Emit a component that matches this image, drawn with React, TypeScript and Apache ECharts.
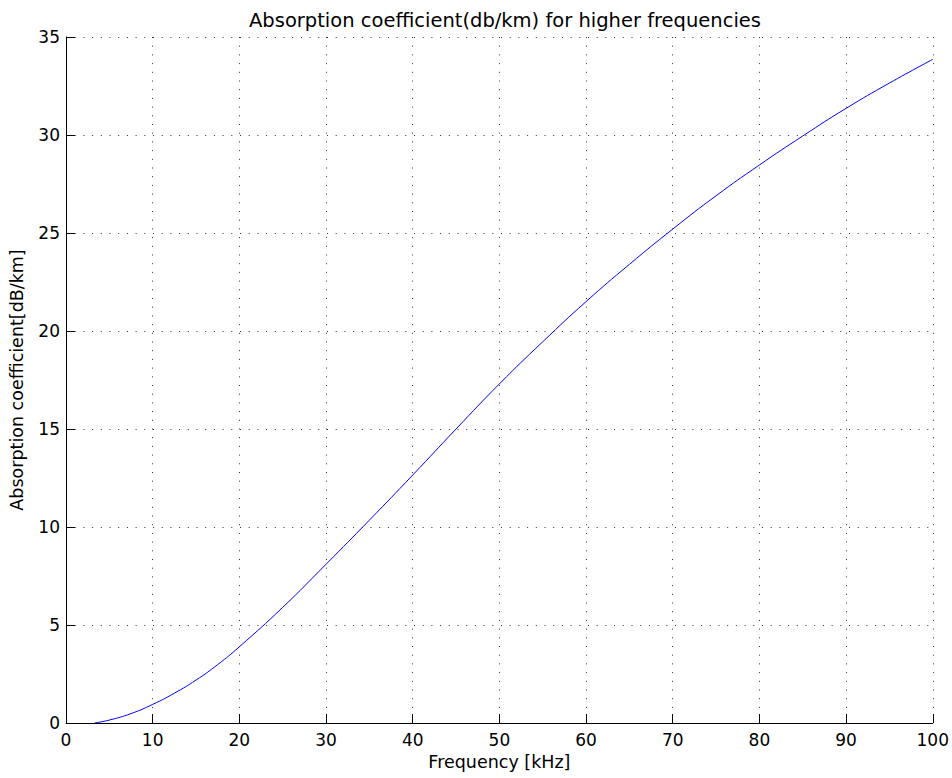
import React, { useEffect, useRef } from "react";
import * as echarts from "echarts";

const frequencies = [3.3, 5, 7.5, 10, 12.5, 15, 17.5, 20, 25, 30, 35, 40, 45, 50, 55, 60, 65, 70, 75, 80, 85, 90, 95, 100];
const absorption = [0, 0.15, 0.48, 0.95, 1.52, 2.19, 2.98, 3.89, 5.9, 8.1, 10.35, 12.65, 15.0, 17.3, 19.45, 21.5, 23.4, 25.2, 26.9, 28.47, 29.95, 31.36, 32.65, 33.86];

const titleText = "Absorption coefficient(db/km) for higher frequencies";
const xName = "Frequency [kHz]";
const yName = "Absorption coefficient[dB/km]";

export default function App() {
  const ref = useRef<HTMLDivElement>(null);
  useEffect(() => {
    if (!ref.current) return;
    const chart = echarts.init(ref.current, null, { renderer: "svg" });
    const font = "'DejaVu Sans', sans-serif";
    const gridLine = { show: true, lineStyle: { color: "#333", width: 1, type: [1, 7.7] as any } };
    chart.setOption({
      animation: false,
      backgroundColor: "#fff",
      textStyle: { fontFamily: font },
      title: {
        text: titleText,
        left: 500,
        textAlign: "center",
        top: 5,
        textStyle: { fontSize: 19.5, fontWeight: "normal", color: "#000", fontFamily: font },
      },
      grid: { left: 64.5, right: 17, top: 37, bottom: 55, containLabel: false },
      xAxis: {
        type: "value",
        min: 0,
        max: 100,
        interval: 10,
        name: xName,
        nameLocation: "middle",
        nameGap: 30,
        nameTextStyle: { fontSize: 17.5, color: "#000", fontFamily: font },
        axisLine: { show: true, lineStyle: { color: "#000", width: 1 } },
        axisTick: { show: true, inside: true, length: 9, lineStyle: { color: "#000" } },
        axisLabel: { fontSize: 17, color: "#000", margin: 8, fontFamily: font },
        splitLine: gridLine,
      },
      yAxis: {
        type: "value",
        min: 0,
        max: 35,
        interval: 5,
        name: yName,
        nameLocation: "middle",
        nameGap: 40,
        nameTextStyle: { fontSize: 17.5, color: "#000", fontFamily: font },
        axisLine: { show: true, lineStyle: { color: "#000", width: 1 } },
        axisTick: { show: true, inside: true, length: 9, lineStyle: { color: "#000" } },
        axisLabel: { fontSize: 17, color: "#000", margin: 6, fontFamily: font },
        splitLine: gridLine,
      },
      series: [
        {
          type: "line",
          data: frequencies.map((f, i) => [f, absorption[i]]),
          smooth: true,
          showSymbol: false,
          symbol: "none",
          lineStyle: { color: "#0000ff", width: 1 },
        },
      ],
    });
    return () => chart.dispose();
  }, []);
  return (
    <div
      ref={ref}
      style={{ position: "fixed", left: 0, top: 0, width: 952, height: 778, background: "#fff" }}
    />
  );
}
